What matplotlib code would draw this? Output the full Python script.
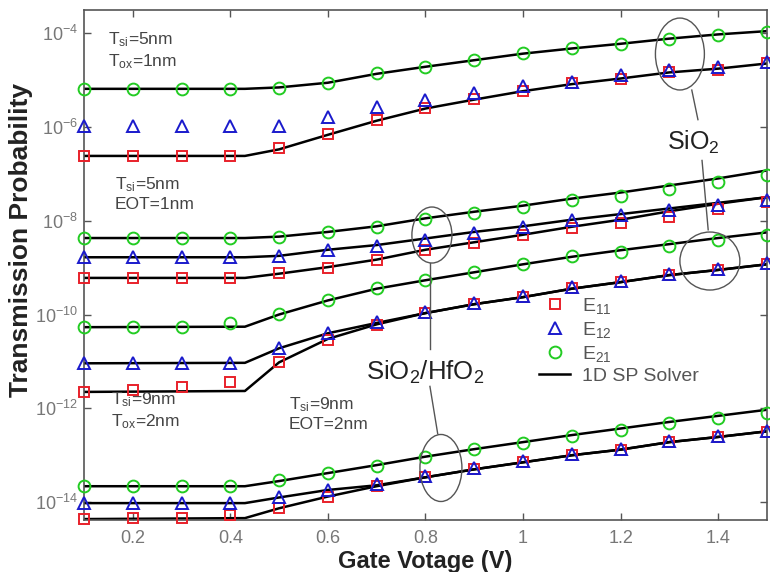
import numpy as np
import matplotlib
matplotlib.use("Agg")
import matplotlib.pyplot as plt
from matplotlib.patches import Ellipse
from matplotlib.lines import Line2D

plt.rcParams['font.family'] = ['Liberation Sans', 'DejaVu Sans']
plt.rcParams['mathtext.default'] = 'regular'

# ---------------- data (log10 of transmission probability) ----------------
V = [0.1, 0.2, 0.3, 0.4, 0.5, 0.6, 0.7, 0.8, 0.9, 1.0, 1.1, 1.2, 1.3, 1.4, 1.5]

# Tsi=5nm, Tox=1nm (SiO2)
g1_E11 = [-6.62, -6.62, -6.62, -6.62, -6.45, -6.15, -5.86, -5.60, -5.41, -5.24, -5.07, -4.98, -4.83, -4.79, -4.64]
g1_E12 = [-5.98, -5.98, -5.98, -5.98, -5.98, -5.79, -5.58, -5.43, -5.28, -5.13, -5.04, -4.90, -4.79, -4.72, -4.62]
g1_E21 = [-5.19, -5.19, -5.19, -5.19, -5.17, -5.07, -4.85, -4.72, -4.58, -4.43, -4.32, -4.23, -4.13, -4.04, -3.98]
# Tsi=5nm, EOT=1nm (SiO2/HfO2)
g2_E11 = [-9.22, -9.22, -9.22, -9.22, -9.12, -9.01, -8.84, -8.63, -8.48, -8.31, -8.16, -8.05, -7.92, -7.75, -7.60]
g2_E12 = [-8.78, -8.78, -8.78, -8.78, -8.76, -8.63, -8.54, -8.41, -8.26, -8.14, -7.99, -7.88, -7.77, -7.67, -7.56]
g2_E21 = [-8.37, -8.37, -8.37, -8.37, -8.35, -8.24, -8.14, -7.97, -7.84, -7.71, -7.56, -7.48, -7.33, -7.18, -7.03]
# Tsi=9nm, Tox=2nm (SiO2)
g3_E11 = [-11.65, -11.61, -11.55, -11.44, -11.01, -10.55, -10.23, -9.97, -9.78, -9.63, -9.44, -9.31, -9.16, -9.05, -8.93]
g3_E12 = [-11.04, -11.04, -11.04, -11.04, -10.72, -10.40, -10.15, -9.95, -9.76, -9.61, -9.42, -9.29, -9.14, -9.03, -8.91]
g3_E21 = [-10.27, -10.27, -10.27, -10.18, -9.99, -9.69, -9.44, -9.27, -9.10, -8.93, -8.75, -8.67, -8.54, -8.41, -8.31]
# Tsi=9nm, EOT=2nm (SiO2/HfO2)
g4_E11 = [-14.36, -14.34, -14.33, -14.28, -14.13, -13.89, -13.66, -13.47, -13.30, -13.15, -13.00, -12.89, -12.72, -12.61, -12.51]
g4_E12 = [-14.02, -14.02, -14.02, -14.02, -13.89, -13.74, -13.62, -13.45, -13.28, -13.13, -12.98, -12.87, -12.70, -12.59, -12.49]
g4_E21 = [-13.66, -13.66, -13.66, -13.66, -13.53, -13.38, -13.22, -13.04, -12.87, -12.74, -12.59, -12.46, -12.32, -12.21, -12.10]

# 1D SP solver curves
V_sp = [0.1, 0.43, 0.5, 0.6, 0.7, 0.8, 0.9, 1.0, 1.1, 1.2, 1.3, 1.4, 1.5]
sp_g1_E21 = [-5.19, -5.19, -5.16, -5.06, -4.87, -4.72, -4.58, -4.44, -4.33, -4.23, -4.12, -4.03, -3.96]
sp_g1_E11 = [-6.62, -6.62, -6.48, -6.17, -5.87, -5.61, -5.42, -5.24, -5.09, -4.97, -4.84, -4.76, -4.65]
sp_g2_E21 = [-8.37, -8.37, -8.34, -8.24, -8.12, -7.95, -7.81, -7.68, -7.53, -7.40, -7.25, -7.10, -6.93]
sp_g2_E12 = [-8.78, -8.78, -8.75, -8.62, -8.52, -8.38, -8.24, -8.12, -7.98, -7.86, -7.74, -7.62, -7.50]
sp_g2_E11 = [-9.22, -9.22, -9.13, -8.99, -8.83, -8.62, -8.46, -8.30, -8.13, -7.98, -7.80, -7.64, -7.50]
sp_g3_E21 = [-10.27, -10.26, -10.00, -9.70, -9.45, -9.27, -9.10, -8.93, -8.77, -8.63, -8.50, -8.37, -8.25]
sp_g3_E12 = [-11.04, -11.03, -10.72, -10.40, -10.18, -9.97, -9.78, -9.63, -9.45, -9.31, -9.16, -9.05, -8.93]
sp_g3_E11 = [-11.65, -11.63, -11.02, -10.52, -10.21, -9.97, -9.78, -9.63, -9.45, -9.31, -9.16, -9.05, -8.93]
sp_g4_E21 = [-13.66, -13.66, -13.55, -13.38, -13.21, -13.03, -12.87, -12.72, -12.57, -12.43, -12.29, -12.16, -12.03]
sp_g4_E12 = [-14.02, -14.02, -13.90, -13.74, -13.64, -13.47, -13.30, -13.15, -13.00, -12.88, -12.72, -12.61, -12.49]
sp_g4_E11 = [-14.36, -14.34, -14.13, -13.88, -13.66, -13.47, -13.30, -13.15, -13.00, -12.88, -12.72, -12.61, -12.49]

x_ticks = [0.2, 0.4, 0.6, 0.8, 1.0, 1.2, 1.4]
x_ticklabels = ['0.2', '0.4', '0.6', '0.8', '1', '1.2', '1.4']
y_exps = [-14, -12, -10, -8, -6, -4]

# ---------------- plot ----------------
fig = plt.figure(figsize=(7.7, 5.72), dpi=100)
ax = fig.add_axes([0.109, 0.0909, 0.887, 0.8916])

sp_lines = [sp_g1_E21, sp_g1_E11, sp_g2_E21, sp_g2_E12, sp_g2_E11,
            sp_g3_E21, sp_g3_E12, sp_g3_E11, sp_g4_E21, sp_g4_E12, sp_g4_E11]
for s in sp_lines:
    ax.plot(V_sp, 10 ** np.array(s), color='black', lw=1.8, zorder=2)

red = '#e8202a'
blue = '#1a1acc'
green = '#22cc22'
mk = dict(ls='none', mfc='none', mew=1.4, zorder=3, clip_on=False)
for s in [g1_E11, g2_E11, g3_E11, g4_E11]:
    ax.plot(V, 10 ** np.array(s), marker='s', ms=7.5, mec=red, **mk)
for s in [g1_E12, g2_E12, g3_E12, g4_E12]:
    ax.plot(V, 10 ** np.array(s), marker='^', ms=8.5, mec=blue, **mk)
for s in [g1_E21, g2_E21, g3_E21, g4_E21]:
    ax.plot(V, 10 ** np.array(s), marker='o', ms=8.5, mec=green, **mk)

ax.set_yscale('log')
ax.set_xlim(0.1, 1.5)
ax.set_ylim(10 ** -14.38, 10 ** -3.51)
ax.set_xticks(x_ticks)
ax.set_xticklabels(x_ticklabels)
ax.set_yticks([10.0 ** e for e in y_exps])
ax.set_yticklabels(['$10^{%d}$' % e for e in y_exps])
ax.yaxis.set_minor_locator(matplotlib.ticker.NullLocator())
ax.tick_params(direction='in', length=5, width=1, colors='#555555',
               top=True, right=True, labelsize=13, labelcolor='#777777')
ax.tick_params(axis='x', pad=7)
ax.tick_params(axis='y', pad=4)
for sp in ax.spines.values():
    sp.set_color('#555555')
    sp.set_linewidth(1.2)

ax.set_xlabel('Gate Votage (V)', fontsize=17, fontweight='bold', color='#222222')
ax.set_ylabel('Transmission Probability', fontsize=19, fontweight='bold',
              color='#222222')
ax.xaxis.label.set_va('center')
ax.yaxis.label.set_va('center')
ax.yaxis.set_label_coords(-0.092, 0.55)
ax.xaxis.set_label_coords(0.5, -0.082)

# annotations
tc = '#444444'
fs_ann = 12.5
ax.text(0.035, 0.96, 'T$_{si}$=5nm\nT$_{ox}$=1nm', transform=ax.transAxes,
        fontsize=fs_ann, color=tc, va='top', linespacing=1.25)
ax.text(0.045, 0.675, 'T$_{si}$=5nm\nEOT=1nm', transform=ax.transAxes,
        fontsize=fs_ann, color=tc, va='top', linespacing=1.25)
ax.text(0.04, 0.255, 'T$_{si}$=9nm\nT$_{ox}$=2nm', transform=ax.transAxes,
        fontsize=fs_ann, color=tc, va='top', linespacing=1.25)
ax.text(0.3, 0.245, 'T$_{si}$=9nm\nEOT=2nm', transform=ax.transAxes,
        fontsize=fs_ann, color=tc, va='top', linespacing=1.25)

ax.text(0.892, 0.741, 'SiO$_2$', transform=ax.transAxes, fontsize=18,
        ha='center', va='center', color='#222222')
ax.text(0.499, 0.29, 'SiO$_2$/HfO$_2$', transform=ax.transAxes, fontsize=18.5,
        ha='center', va='center', color='#222222')

ell_kw = dict(transform=ax.transAxes, fill=False, ec='#555555', lw=1, zorder=4)
ax.add_patch(Ellipse((0.8726, 0.9137), 0.0717, 0.141, **ell_kw))
ax.add_patch(Ellipse((0.9165, 0.5078), 0.0878, 0.1137, **ell_kw))
ax.add_patch(Ellipse((0.5095, 0.5588), 0.0586, 0.1098, **ell_kw))
ax.add_patch(Ellipse((0.5227, 0.1020), 0.0615, 0.1314, **ell_kw))
ln_kw = dict(transform=ax.transAxes, color='#555555', lw=1, zorder=4)
ax.add_line(Line2D([0.890, 0.899], [0.843, 0.785], **ln_kw))
ax.add_line(Line2D([0.905, 0.914], [0.705, 0.569], **ln_kw))
ax.add_line(Line2D([0.5066, 0.5066], [0.504, 0.335], **ln_kw))
ax.add_line(Line2D([0.5066, 0.518], [0.262, 0.169], **ln_kw))

handles = [
    Line2D([], [], ls='none', marker='s', ms=7.5, mfc='none', mec=red, mew=1.4),
    Line2D([], [], ls='none', marker='^', ms=8.5, mfc='none', mec=blue, mew=1.4),
    Line2D([], [], ls='none', marker='o', ms=8.5, mfc='none', mec=green, mew=1.4),
    Line2D([], [], color='black', lw=1.8),
]
labels = ['E$_{11}$', 'E$_{12}$', 'E$_{21}$', '1D SP Solver']
leg = ax.legend(handles, labels, loc='upper left', bbox_to_anchor=(0.655, 0.455),
                frameon=False, fontsize=14, handlelength=1.6, labelspacing=0.2,
                handletextpad=0.6, borderaxespad=0)
for t in leg.get_texts():
    t.set_color('#555555')

fig.savefig('out.png', dpi=100)
